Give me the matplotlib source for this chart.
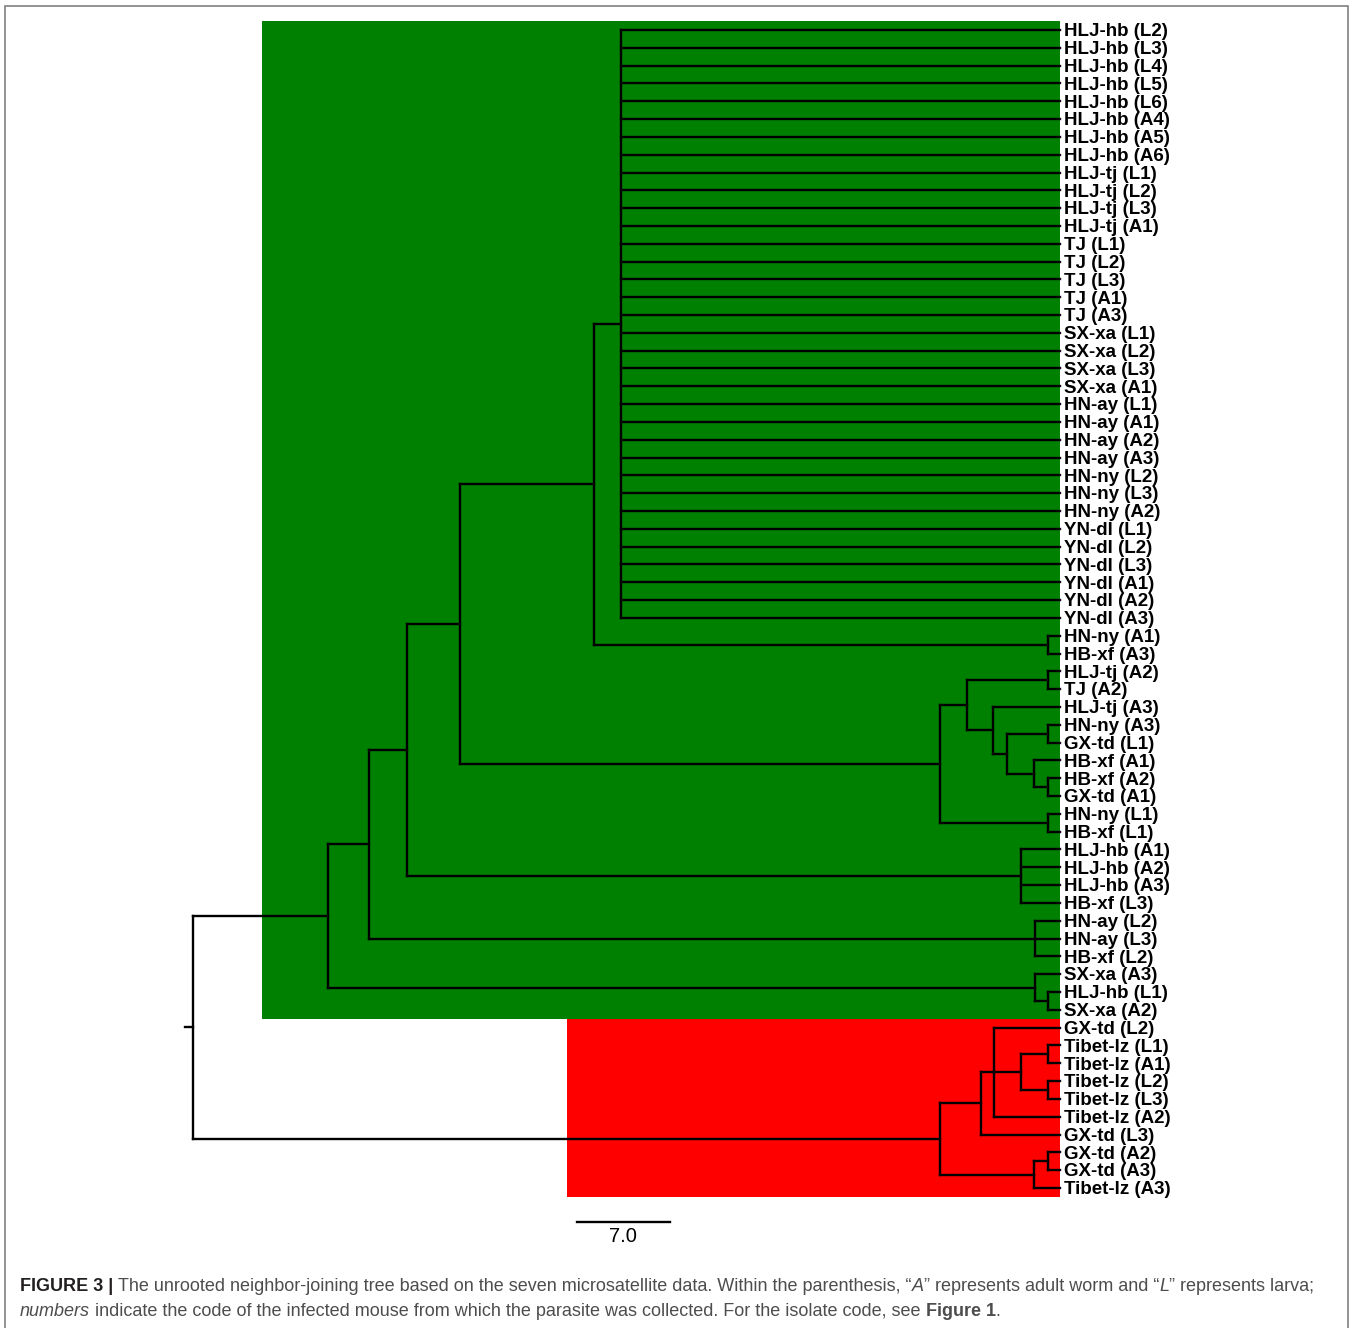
import matplotlib
matplotlib.use('Agg')
import matplotlib.pyplot as plt
from matplotlib.patches import Rectangle

# leaf labels, top to bottom
leaves = [
    'HLJ-hb (L2)', 'HLJ-hb (L3)', 'HLJ-hb (L4)', 'HLJ-hb (L5)', 'HLJ-hb (L6)',
    'HLJ-hb (A4)', 'HLJ-hb (A5)', 'HLJ-hb (A6)',
    'HLJ-tj (L1)', 'HLJ-tj (L2)', 'HLJ-tj (L3)', 'HLJ-tj (A1)',
    'TJ (L1)', 'TJ (L2)', 'TJ (L3)', 'TJ (A1)', 'TJ (A3)',
    'SX-xa (L1)', 'SX-xa (L2)', 'SX-xa (L3)', 'SX-xa (A1)',
    'HN-ay (L1)', 'HN-ay (A1)', 'HN-ay (A2)', 'HN-ay (A3)',
    'HN-ny (L2)', 'HN-ny (L3)', 'HN-ny (A2)',
    'YN-dl (L1)', 'YN-dl (L2)', 'YN-dl (L3)', 'YN-dl (A1)', 'YN-dl (A2)', 'YN-dl (A3)',
    'HN-ny (A1)', 'HB-xf (A3)',
    'HLJ-tj (A2)', 'TJ (A2)',
    'HLJ-tj (A3)', 'HN-ny (A3)', 'GX-td (L1)', 'HB-xf (A1)', 'HB-xf (A2)', 'GX-td (A1)',
    'HN-ny (L1)', 'HB-xf (L1)',
    'HLJ-hb (A1)', 'HLJ-hb (A2)', 'HLJ-hb (A3)', 'HB-xf (L3)',
    'HN-ay (L2)', 'HN-ay (L3)', 'HB-xf (L2)',
    'SX-xa (A3)', 'HLJ-hb (L1)', 'SX-xa (A2)',
    'GX-td (L2)', 'Tibet-lz (L1)', 'Tibet-lz (A1)', 'Tibet-lz (L2)', 'Tibet-lz (L3)',
    'Tibet-lz (A2)', 'GX-td (L3)', 'GX-td (A2)', 'GX-td (A3)', 'Tibet-lz (A3)',
]

# internal node each leaf hangs from
leaf_parent = [6] * 34 + [7, 7, 10, 10, 11, 13, 13, 14, 15, 15, 16, 16,
                          17, 17, 17, 17, 18, 18, 18, 19, 20, 20,
                          23, 25, 25, 26, 26, 23, 22, 28, 28, 27]

# internal nodes: parent and distance from root
node_parent = [-1, 0, 1, 2, 3, 4, 5, 5, 4, 8, 9, 9, 11, 12, 12, 14, 8,
               3, 2, 1, 19, 0, 21, 22, 23, 24, 24, 21, 27]
node_depth = [0.0, 10.2, 13.3, 16.2, 20.2, 30.4, 32.4, 64.8, 56.6, 58.6, 64.8,
              60.6, 61.7, 64.8, 63.7, 64.8, 64.8, 62.7, 63.8, 63.8, 64.8,
              56.6, 59.7, 60.7, 62.7, 64.8, 64.8, 63.7, 64.8]
tip_depth = 65.7
root_stub = 0.6

# coloured clade boxes
clade_start = [5.2, 28.3]
clade_first = [0, 56]
clade_last = [55, 65]
clade_colors = ['#008000', '#ff0000']

scale_len = 7.0

W, H = 1350, 1328
fig = plt.figure(figsize=(W / 100, H / 100), dpi=100)
ax = fig.add_axes([0, 0, 1, 1])
px_x = 13.2      # pixels per branch unit
px_y = 17.815    # pixels per leaf row
ax.set_xlim(-193 / px_x, (W - 193) / px_x)
ax.set_ylim((H - 30) / px_y, -30 / px_y)
ax.axis('off')

for x0, a, b, c in zip(clade_start, clade_first, clade_last, clade_colors):
    ax.add_patch(Rectangle((x0, a - 0.5), tip_depth - x0, b - a + 1,
                           facecolor=c, edgecolor='none', zorder=0))

# children of every internal node
n = len(node_parent)
kids = [[] for _ in range(n)]
for i, p in enumerate(leaf_parent):
    kids[p].append(('leaf', i))
for j in range(1, n):
    kids[node_parent[j]].append(('node', j))

node_y = [0.0] * n
for j in range(n - 1, -1, -1):
    ys = [i if k == 'leaf' else node_y[i] for k, i in kids[j]]
    node_y[j] = (min(ys) + max(ys)) / 2

lw = 1.7
for j in range(n):
    ys = []
    for k, i in kids[j]:
        if k == 'leaf':
            cy, cx = i, tip_depth
        else:
            cy, cx = node_y[i], node_depth[i]
        ys.append(cy)
        ax.plot([node_depth[j], cx], [cy, cy], color='black', lw=lw,
                solid_capstyle='projecting', zorder=2)
    ax.plot([node_depth[j], node_depth[j]], [min(ys), max(ys)], color='black',
            lw=lw, solid_capstyle='projecting', zorder=2)
ax.plot([-root_stub, 0], [node_y[0], node_y[0]], color='black', lw=lw, zorder=2)

for i, lab in enumerate(leaves):
    ax.text(tip_depth + 0.25, i + 0.1, lab, fontsize=13.5, fontweight='bold',
            family='Liberation Sans', va='center', ha='left', zorder=3)

# scale bar
sb_x = 29.1
sb_y = len(leaves) + 0.9
ax.plot([sb_x, sb_x + scale_len], [sb_y, sb_y], color='black', lw=lw)
ax.text(sb_x + scale_len / 2, sb_y + 0.85, '7.0', fontsize=14.5,
        family='Liberation Sans', ha='center', va='center')

# frame
fig.patches.append(Rectangle((5 / W, -0.01), 1343 / W, 1 - 6 / H + 0.01,
                             transform=fig.transFigure, fill=False,
                             edgecolor='#808080', lw=1.2))

# caption with mixed styles
renderer = fig.canvas.get_renderer()
body = '#4d4d4d'
cap_size = 13.0


def space_width(weight, style):
    kw = dict(fontsize=cap_size, fontweight=weight, fontstyle=style, family='Liberation Sans')
    t1 = fig.text(0, 0, 'a a', **kw)
    t2 = fig.text(0, 0, 'aa', **kw)
    w = t1.get_window_extent(renderer).width - t2.get_window_extent(renderer).width
    t1.remove()
    t2.remove()
    return w


def draw_runs(x, y, runs):
    for s, weight, style, color in runs:
        sw = space_width(weight, style)
        if s.startswith(' '):
            x += sw
        core = s.strip(' ')
        if core:
            t = fig.text(x / W, 1 - y / H, core, fontsize=cap_size, fontweight=weight,
                         fontstyle=style, color=color, family='Liberation Sans',
                         va='baseline', ha='left')
            x = t.get_window_extent(renderer).x1
        if s.endswith(' '):
            x += sw


line1 = [
    ('FIGURE 3 | ', 'bold', 'normal', '#231f20'),
    ('The unrooted neighbor-joining tree based on the seven microsatellite data. '
     'Within the parenthesis, \u201c', 'normal', 'normal', body),
    ('A', 'normal', 'italic', body),
    ('\u201d represents adult worm and \u201c', 'normal', 'normal', body),
    ('L', 'normal', 'italic', body),
    ('\u201d represents larva;', 'normal', 'normal', body),
]
line2 = [
    ('numbers', 'normal', 'italic', body),
    (' indicate the code of the infected mouse from which the parasite was collected. '
     'For the isolate code, see ', 'normal', 'normal', body),
    ('Figure 1', 'bold', 'normal', body),
    ('.', 'normal', 'normal', body),
]
draw_runs(20, 1291, line1)
draw_runs(20, 1316, line2)

fig.savefig('out.png', dpi=100)
